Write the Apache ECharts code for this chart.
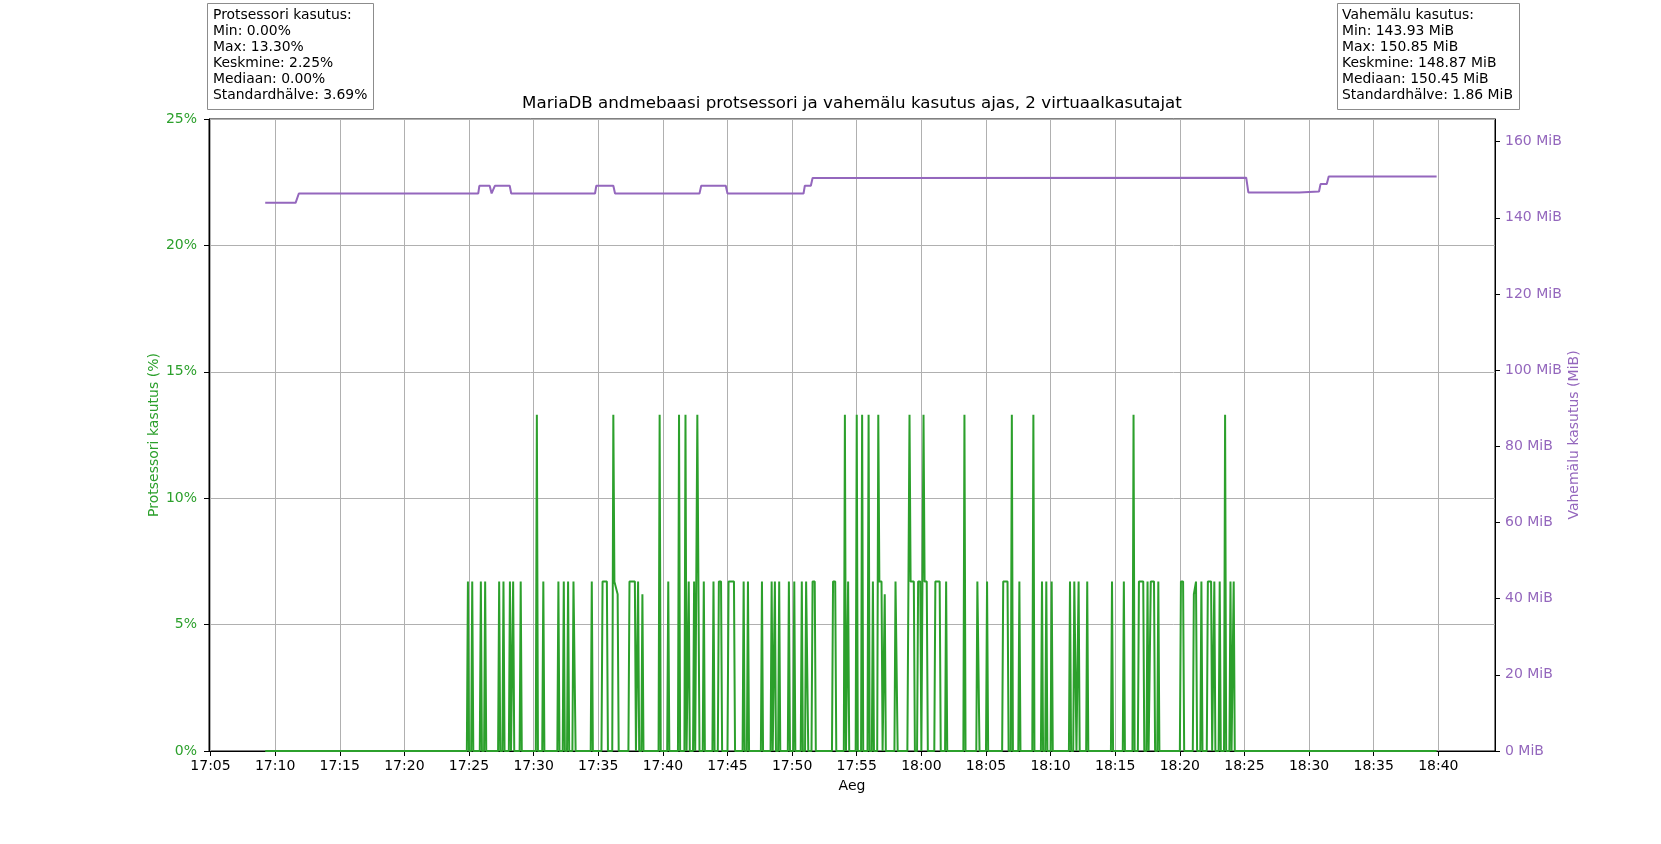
<!DOCTYPE html>
<html><head><meta charset="utf-8">
<script src="https://cdn.jsdelivr.net/npm/echarts@6/dist/echarts.min.js"></script>
<style>html,body{margin:0;padding:0;background:#fff}#c{width:1661px;height:844px}</style>
</head><body><div id="c"></div>
<script>
// ---------- data ----------
const titleText = 'MariaDB andmebaasi protsessori ja vahemälu kasutus ajas, 2 virtuaalkasutajat';
const xAxisName = 'Aeg';
const cpuAxisName = 'Protsessori kasutus (%)';
const memAxisName = 'Vahemälu kasutus (MiB)';
const xTickLabels = ['17:05','17:10','17:15','17:20','17:25','17:30','17:35','17:40','17:45','17:50',
  '17:55','18:00','18:05','18:10','18:15','18:20','18:25','18:30','18:35','18:40'];
const xRange = ['17:04:53', '18:44:23'];
const cpuTicks = [0, 5, 10, 15, 20, 25];
const memTicks = [0, 20, 40, 60, 80, 100, 120, 140, 160];
const memAxisMax = 165.935;
const cpuStats = ['Protsessori kasutus:', 'Min: 0.00%', 'Max: 13.30%', 'Keskmine: 2.25%', 'Mediaan: 0.00%', 'Standardhälve: 3.69%'];
const memStats = ['Vahemälu kasutus:', 'Min: 143.93 MiB', 'Max: 150.85 MiB', 'Keskmine: 148.87 MiB', 'Mediaan: 150.45 MiB', 'Standardhälve: 1.86 MiB'];

const cpuPoints = [
["17:09:14",0],
["17:24:50",0],["17:24:55",6.7],["17:25:00",0],
["17:25:10",0],["17:25:15",6.7],["17:25:20",0],
["17:25:50",0],["17:25:55",6.7],["17:26:00",0],
["17:26:10",0],["17:26:15",6.7],["17:26:20",0],
["17:27:15",0],["17:27:20",6.7],["17:27:25",0],
["17:27:35",0],["17:27:40",6.7],["17:27:45",0],
["17:28:05",0],["17:28:10",6.7],["17:28:15",0],
["17:28:20",0],["17:28:25",6.7],["17:28:30",0],
["17:28:55",0],["17:29:00",6.7],["17:29:05",0],
["17:30:10",0],["17:30:15",13.3],["17:30:20",0],
["17:30:40",0],["17:30:45",6.7],["17:30:50",0],
["17:31:50",0],["17:31:55",6.7],["17:32:00",0],
["17:32:15",0],["17:32:20",6.7],["17:32:25",0],
["17:32:35",0],["17:32:40",6.7],["17:32:45",0],
["17:33:00",0],["17:33:05",6.7],["17:33:10",6.7],["17:33:15",0],
["17:34:25",0],["17:34:30",6.7],["17:34:35",0],
["17:35:15",0],["17:35:20",6.7],["17:35:40",6.7],["17:35:45",0],
["17:36:05",0],["17:36:10",13.3],["17:36:15",6.7],["17:36:30",6.2],["17:36:35",0],
["17:37:20",0],["17:37:25",6.7],["17:37:50",6.7],["17:37:55",0],
["17:38:00",0],["17:38:05",6.7],["17:38:10",0],
["17:38:20",0],["17:38:25",6.2],["17:38:30",0],
["17:39:40",0],["17:39:45",13.3],["17:39:50",0],
["17:40:20",0],["17:40:25",6.7],["17:40:30",0],
["17:41:10",0],["17:41:15",13.3],["17:41:20",0],
["17:41:40",0],["17:41:45",13.3],["17:41:50",0],
["17:41:55",0],["17:42:00",6.7],["17:42:05",0],
["17:42:20",0],["17:42:25",6.7],["17:42:30",0],
["17:42:35",0],["17:42:40",13.3],["17:42:45",13.3],["17:42:50",0],
["17:43:05",0],["17:43:10",6.7],["17:43:15",0],
["17:43:50",0],["17:43:55",6.7],["17:44:00",0],
["17:44:15",0],["17:44:20",6.7],["17:44:30",6.7],["17:44:35",0],
["17:45:00",0],["17:45:05",6.7],["17:45:30",6.7],["17:45:35",0],
["17:46:10",0],["17:46:15",6.7],["17:46:20",0],
["17:46:30",0],["17:46:35",6.7],["17:46:40",0],
["17:47:35",0],["17:47:40",6.7],["17:47:45",0],
["17:48:20",0],["17:48:25",6.7],["17:48:30",0],
["17:48:35",0],["17:48:40",6.7],["17:48:45",0],
["17:48:55",0],["17:49:00",6.7],["17:49:05",0],
["17:49:40",0],["17:49:45",6.7],["17:49:50",0],
["17:50:05",0],["17:50:10",6.7],["17:50:15",0],
["17:50:40",0],["17:50:45",6.7],["17:50:50",0],
["17:51:00",0],["17:51:05",6.7],["17:51:10",6.7],["17:51:15",0],
["17:51:30",0],["17:51:35",6.7],["17:51:45",6.7],["17:51:50",0],
["17:53:05",0],["17:53:10",6.7],["17:53:20",6.7],["17:53:25",0],
["17:54:00",0],["17:54:05",13.3],["17:54:10",0],
["17:54:15",0],["17:54:20",6.7],["17:54:25",0],
["17:54:55",0],["17:55:00",13.3],["17:55:05",0],
["17:55:20",0],["17:55:25",13.3],["17:55:30",0],
["17:55:50",0],["17:55:55",13.3],["17:56:00",0],
["17:56:10",0],["17:56:15",6.7],["17:56:20",0],
["17:56:35",0],["17:56:40",13.3],["17:56:45",6.7],["17:56:55",6.7],["17:57:00",0],
["17:57:05",0],["17:57:10",6.2],["17:57:15",0],
["17:57:55",0],["17:58:00",6.7],["17:58:05",6.7],["17:58:10",0],
["17:58:55",0],["17:59:05",13.3],["17:59:10",6.7],["17:59:25",6.7],["17:59:30",0],
["17:59:40",0],["17:59:45",6.7],["17:59:55",6.7],["18:00:00",0],
["18:00:05",0],["18:00:10",13.3],["18:00:15",6.7],["18:00:25",6.7],["18:00:30",0],
["18:01:00",0],["18:01:05",6.7],["18:01:25",6.7],["18:01:30",0],
["18:01:50",0],["18:01:55",6.7],["18:02:00",0],
["18:03:15",0],["18:03:20",13.3],["18:03:25",0],
["18:04:15",0],["18:04:20",6.7],["18:04:25",6.7],["18:04:30",0],
["18:05:00",0],["18:05:05",6.7],["18:05:10",0],
["18:06:15",0],["18:06:20",6.7],["18:06:40",6.7],["18:06:45",0],
["18:06:55",0],["18:07:00",13.3],["18:07:05",0],
["18:07:30",0],["18:07:35",6.7],["18:07:40",0],
["18:08:35",0],["18:08:40",13.3],["18:08:45",0],
["18:09:15",0],["18:09:20",6.7],["18:09:25",0],
["18:09:35",0],["18:09:40",6.7],["18:09:45",0],
["18:10:00",0],["18:10:05",6.7],["18:10:10",0],
["18:11:25",0],["18:11:30",6.7],["18:11:35",0],
["18:11:45",0],["18:11:50",6.7],["18:11:55",6.7],["18:12:00",0],
["18:12:05",0],["18:12:10",6.7],["18:12:15",0],
["18:12:45",0],["18:12:50",6.7],["18:12:55",0],
["18:14:40",0],["18:14:45",6.7],["18:14:50",0],
["18:15:35",0],["18:15:40",6.7],["18:15:45",0],
["18:16:20",0],["18:16:25",13.3],["18:16:30",0],
["18:16:45",0],["18:16:50",6.7],["18:17:10",6.7],["18:17:15",0],
["18:17:25",0],["18:17:30",6.7],["18:17:35",0],
["18:17:40",0],["18:17:45",6.7],["18:18:00",6.7],["18:18:05",0],
["18:18:15",0],["18:18:20",6.7],["18:18:25",0],
["18:20:00",0],["18:20:05",6.7],["18:20:15",6.7],["18:20:20",0],
["18:21:00",0],["18:21:05",6.2],["18:21:15",6.7],["18:21:20",0],
["18:21:35",0],["18:21:40",6.7],["18:21:45",0],
["18:22:05",0],["18:22:10",6.7],["18:22:25",6.7],["18:22:30",0],
["18:22:35",0],["18:22:40",6.7],["18:22:45",0],
["18:23:00",0],["18:23:05",6.7],["18:23:10",0],
["18:23:25",0],["18:23:30",13.3],["18:23:35",0],
["18:23:50",0],["18:23:55",6.7],["18:24:00",0],
["18:24:05",0],["18:24:10",6.7],["18:24:15",0],
["18:39:52",0]
];

const memPoints = [
["17:09:14",143.93],["17:11:35",143.93],["17:11:50",146.38],
["17:25:43",146.38],["17:25:48",148.40],["17:26:36",148.40],["17:26:45",146.38],["17:26:52",146.38],["17:27:00",148.40],
["17:28:09",148.40],["17:28:16",146.38],["17:34:45",146.38],["17:34:51",148.40],["17:36:10",148.40],["17:36:18",146.38],
["17:42:50",146.38],["17:42:58",148.40],["17:44:52",148.40],["17:45:00",146.38],
["17:50:53",146.38],["17:50:59",148.40],["17:51:27",148.40],["17:51:35",150.45],
["17:57:25",150.45],["17:57:30",150.52],["18:25:08",150.52],["18:25:18",146.65],
["18:29:14",146.65],["18:29:20",146.91],["18:30:46",146.91],["18:30:53",148.84],
["18:31:22",148.84],["18:31:31",150.85],["18:39:52",150.85]
];

// ---------- helpers ----------
function toSec(s){const p=s.split(':').map(Number);return p[0]*3600+p[1]*60+(p[2]||0);}
function fmtHM(v){const h=Math.floor(v/3600),m=Math.round((v-h*3600)/60);return String(h).padStart(2,'0')+':'+String(m).padStart(2,'0');}
const FONT='"DejaVu Sans", sans-serif';
const GREEN='#2ca02c', PURPLE='#9467bd', GRID='#b0b0b0';
const xTickValues = xTickLabels.map(toSec);
const cpuData = cpuPoints.map(p=>[toSec(p[0]),p[1]]);
const memData = memPoints.map(p=>[toSec(p[0]),p[1]]);

const G = {left:209, right:166, top:119, bottom:93};
const plotCx = G.left + (1661-G.left-G.right)/2;
const plotCy = G.top + (844-G.top-G.bottom)/2;

const chart = echarts.init(document.getElementById('c'), null, {renderer:'canvas'});
chart.setOption({
  animation:false,
  backgroundColor:'#fff',
  textStyle:{fontFamily:FONT},
  grid:{left:G.left,right:G.right,top:G.top,bottom:G.bottom,containLabel:false,outerBoundsMode:'none',
        show:true,borderColor:'#000',borderWidth:1,backgroundColor:'transparent'},
  xAxis:{type:'value',min:toSec(xRange[0]),max:toSec(xRange[1]),
    axisLine:{show:true,onZero:false,lineStyle:{color:'#000',width:1}},
    axisTick:{show:true,length:5,customValues:xTickValues,lineStyle:{color:'#000',width:1}},
    axisLabel:{show:true,customValues:xTickValues,formatter:fmtHM,color:'#000',fontSize:14,margin:8,fontFamily:FONT},
    splitLine:{show:true,lineStyle:{color:GRID,width:1}}
  },
  yAxis:[
    {type:'value',position:'left',min:cpuTicks[0],max:cpuTicks[cpuTicks.length-1],interval:cpuTicks[1]-cpuTicks[0],
     axisLine:{show:true,onZero:false,lineStyle:{color:'#000',width:1}},
     axisTick:{show:true,length:5,lineStyle:{color:'#000',width:1}},
     axisLabel:{formatter:'{value}%',color:GREEN,fontSize:14,margin:12,fontFamily:FONT},
     splitLine:{show:true,lineStyle:{color:GRID,width:1}}},
    {type:'value',position:'right',min:0,max:memAxisMax,
     axisLine:{show:true,onZero:false,lineStyle:{color:'#000',width:1}},
     axisTick:{show:true,length:5,customValues:memTicks,lineStyle:{color:'#000',width:1}},
     axisLabel:{customValues:memTicks,formatter:v=>(memTicks.indexOf(Math.round(v))>=0&&Math.abs(v-Math.round(v))<1e-6)?(Math.round(v)+' MiB'):'',
       color:PURPLE,fontSize:14,margin:10,fontFamily:FONT},
     splitLine:{show:false}}
  ],
  series:[
    {type:'line',name:'cpu',yAxisIndex:0,data:cpuData,showSymbol:false,symbol:'none',sampling:null,
     lineStyle:{color:GREEN,width:2},itemStyle:{color:GREEN},z:3},
    {type:'line',name:'mem',yAxisIndex:1,data:memData,showSymbol:false,symbol:'none',
     lineStyle:{color:PURPLE,width:2},itemStyle:{color:PURPLE},z:2}
  ],
  graphic:[
    {type:'text',x:plotCx,y:104,style:{text:titleText,font:'16.7px '+FONT,fill:'#000',align:'center',verticalAlign:'middle'}},
    {type:'text',x:plotCx,y:786,style:{text:xAxisName,font:'14px '+FONT,fill:'#000',align:'center',verticalAlign:'middle'}},
    {type:'text',x:154,y:plotCy,rotation:Math.PI/2,style:{text:cpuAxisName,font:'14px '+FONT,fill:GREEN,align:'center',verticalAlign:'middle'}},
    {type:'text',x:1574,y:plotCy,rotation:Math.PI/2,style:{text:memAxisName,font:'14px '+FONT,fill:PURPLE,align:'center',verticalAlign:'middle'}},
    {type:'rect',shape:{x:207.5,y:3.5,width:166,height:106},style:{fill:'#fff',stroke:'#8c8c8c',lineWidth:1}},
    {type:'text',x:213,y:7,style:{text:cpuStats.join('\n'),font:'13.9px '+FONT,lineHeight:16.1,fill:'#000',align:'left',verticalAlign:'top'}},
    {type:'rect',shape:{x:1337.5,y:3.5,width:182,height:106},style:{fill:'#fff',stroke:'#8c8c8c',lineWidth:1}},
    {type:'text',x:1342,y:7,style:{text:memStats.join('\n'),font:'13.9px '+FONT,lineHeight:16.1,fill:'#000',align:'left',verticalAlign:'top'}}
  ]
});
</script></body></html>
